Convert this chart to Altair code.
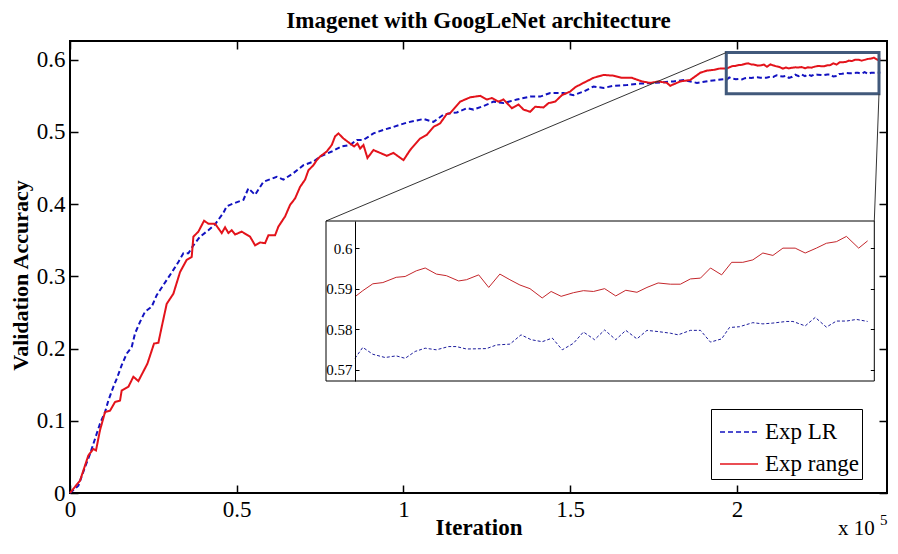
import altair as alt
import pandas as pd

SERIF = "Liberation Serif"
series_names = ["Exp LR", "Exp range"]

# ---- Exp range (red, solid) ----
range_iter_main = [0, 500, 3000, 5500, 7000, 7800, 9000, 10500, 12000, 13500, 15000, 15500, 17500, 19000,
                   20500, 23200, 25200, 26500, 27500, 29000, 31000, 33000, 35000, 36500, 37000, 38500, 40200,
                   41500, 43500, 45500, 46500, 47500, 48500, 49500, 51500, 54000, 55500, 57000, 58500, 59500,
                   61500, 62500, 64500, 66000, 67500, 69000, 70500, 71500, 73000, 74000, 75000, 77000, 78500,
                   79500, 80500, 82000, 84000, 85200, 86200, 87000, 88000, 89200, 91000, 93000, 95000, 97000,
                   100000, 102000, 105000, 107000, 109000, 111000, 113000, 114000, 117000, 120000, 123000,
                   125000, 126500, 128500, 130000, 132500, 134500, 136000, 138000, 139500, 142000, 143500,
                   145500, 147500, 150000, 151500, 154000, 157000, 160000, 163000, 165500, 168500, 171500,
                   174000, 176500, 179000, 180000, 183000, 186000, 189000, 191000, 193000, 195000]
range_acc_main = [0.0, 0.003, 0.017, 0.052, 0.061, 0.059, 0.087, 0.112, 0.114, 0.126, 0.128, 0.142, 0.147, 0.161,
                  0.155, 0.179, 0.207, 0.208, 0.230, 0.262, 0.276, 0.306, 0.323, 0.327, 0.355, 0.362, 0.377,
                  0.373, 0.373, 0.360, 0.368, 0.360, 0.364, 0.358, 0.362, 0.355, 0.343, 0.347, 0.346, 0.357,
                  0.357, 0.369, 0.383, 0.399, 0.408, 0.424, 0.434, 0.447, 0.454, 0.461, 0.466, 0.473, 0.482,
                  0.494, 0.498, 0.491, 0.484, 0.480, 0.484, 0.477, 0.482, 0.464, 0.475, 0.471, 0.467, 0.471,
                  0.461, 0.475, 0.491, 0.496, 0.507, 0.512, 0.525, 0.526, 0.542, 0.548, 0.550,
                  0.545, 0.547, 0.542, 0.545, 0.533, 0.538, 0.531, 0.528, 0.535, 0.534, 0.540,
                  0.542, 0.551, 0.556, 0.562, 0.568, 0.575, 0.579, 0.578, 0.575, 0.575, 0.570,
                  0.568, 0.570, 0.568, 0.564, 0.570, 0.572, 0.582, 0.585, 0.586, 0.588]
range_iter_late = [197000, 197700, 198600, 199500, 200700, 201500, 202500, 203300, 204300, 205200, 206300,
                   207000, 208100, 209000, 210000, 210900, 211800, 212700, 213800, 214600, 215500, 216600,
                   217500, 218400, 219400, 220400, 221300, 222300, 223200, 224200, 225300, 226200, 227100,
                   228000, 228900, 229900, 230800, 231800, 232700, 233600, 234500, 235400, 236500, 237400,
                   238400, 239300, 240200, 241100, 242200, 243000]
range_acc_late = [0.5880, 0.5895, 0.5912, 0.5915, 0.5928, 0.5930, 0.5944, 0.5951, 0.5936, 0.5932, 0.5919,
                  0.5922, 0.5934, 0.5903, 0.5936, 0.5922, 0.5909, 0.5900, 0.5877, 0.5893, 0.5881, 0.5890,
                  0.5895, 0.5893, 0.5900, 0.5882, 0.5896, 0.5891, 0.5903, 0.5914, 0.5911, 0.5911, 0.5924,
                  0.5926, 0.5951, 0.5934, 0.5965, 0.5965, 0.5971, 0.5988, 0.5982, 0.6000, 0.6000, 0.5988,
                  0.6000, 0.6012, 0.6016, 0.6029, 0.6000, 0.6018]

# ---- Exp LR (blue, dashed) ----
lr_iter_main = [0, 2500, 4500, 6000, 8000, 9000, 10500, 11500, 13000, 14000, 15500, 17000, 18500, 19500,
                21000, 22500, 24500, 26000, 28000, 29000, 31000, 32500, 34000, 35500, 37000, 39000, 41500,
                43500, 46000, 47000, 49000, 52000, 53500, 55500, 58000, 62000, 64000, 67000, 70000, 73000,
                75000, 78500, 81500, 84000, 86000, 88000, 91000, 94000, 97000, 101000, 104000, 106000,
                109000, 110500, 112000, 114000, 116000, 119000, 121000, 124000, 127000, 130000, 134000,
                138000, 141000, 144000, 148000, 151000, 154000, 157000, 160000, 163000, 167000, 171000,
                175000, 178000, 181000, 184000, 188000, 192000, 196000]
lr_acc_main = [0.0, 0.010, 0.036, 0.054, 0.082, 0.096, 0.112, 0.128, 0.147, 0.158, 0.177, 0.193, 0.202, 0.221,
               0.237, 0.251, 0.258, 0.274, 0.288, 0.295, 0.309, 0.320, 0.332, 0.332, 0.343, 0.355, 0.364,
               0.372, 0.388, 0.397, 0.401, 0.406, 0.422, 0.413, 0.431, 0.438, 0.434, 0.443, 0.454, 0.459,
               0.466, 0.473, 0.480, 0.482, 0.489, 0.489, 0.498, 0.503, 0.507, 0.513, 0.516, 0.518,
               0.514, 0.519, 0.524, 0.526, 0.527, 0.533, 0.531, 0.536, 0.542, 0.540, 0.545,
               0.549, 0.549, 0.554, 0.554, 0.551, 0.556, 0.563, 0.561, 0.564, 0.565, 0.567,
               0.568, 0.569, 0.570, 0.572, 0.568, 0.571, 0.573]
lr_iter_late = [197000, 197700, 198600, 199700, 200700, 201500, 202400, 203300, 204300, 205400, 206100,
                207000, 208800, 209700, 210900, 211900, 212800, 213800, 214700, 215600, 216600, 217500,
                218500, 219400, 220400, 221300, 222300, 223200, 224200, 225300, 226000, 227100, 228000,
                228900, 229900, 230600, 231500, 232700, 233600, 234500, 235700, 236300, 237400, 238300,
                239300, 240200, 241100, 242000, 243000]
lr_acc_late = [0.5728, 0.5755, 0.5738, 0.5730, 0.5734, 0.5728, 0.5745, 0.5753, 0.5749, 0.5757, 0.5757,
               0.5751, 0.5752, 0.5761, 0.5763, 0.5786, 0.5774, 0.5769, 0.5778, 0.5749, 0.5765, 0.5793,
               0.5774, 0.5798, 0.5774, 0.5797, 0.5776, 0.5797, 0.5794, 0.5790, 0.5786, 0.5797, 0.5797,
               0.5768, 0.5776, 0.5804, 0.5806, 0.5816, 0.5813, 0.5815, 0.5819, 0.5819, 0.5808, 0.5829,
               0.5805, 0.5820, 0.5820, 0.5824, 0.5819]

x_tick_values = [0, 50000, 100000, 150000, 200000]
y_tick_values = [0, 0.1, 0.2, 0.3, 0.4, 0.5, 0.6]
inset_tick_values = [0.57, 0.58, 0.59, 0.6]
title_text = "Imagenet with GoogLeNet architecture"

# ---- layout ----
W, H = 817, 452
XMAX, YMAX = 245000, 0.626
IN_DOM_X = [197000, 243600]
IN_DOM_Y = [0.5672, 0.6067]
IN_BOX_L, IN_AX, IN_R, IN_T, IN_B = 256, 285, 804.3, 180, 340
ZOOM_X = [196800, 242600]
ZOOM_Y = [0.553, 0.610]

rows = []
for it, a in zip(lr_iter_main + lr_iter_late, lr_acc_main + lr_acc_late):
    rows.append({"it": it, "acc": a, "series": "Exp LR"})
for it, a in zip(range_iter_main + range_iter_late, range_acc_main + range_acc_late):
    rows.append({"it": it, "acc": a, "series": "Exp range"})
df = pd.DataFrame(rows)

xs_main = alt.Scale(domain=[0, XMAX], nice=False, zero=False)
ys_main = alt.Scale(domain=[0, YMAX], nice=False, zero=False)
xs_in = alt.Scale(domain=IN_DOM_X, range=[IN_AX, IN_R], nice=False, zero=False)
ys_in = alt.Scale(domain=IN_DOM_Y, range=[IN_B, IN_T], nice=False, zero=False)

leg = alt.Legend(orient="none", legendX=641, legendY=368, title=None, symbolType="stroke",
                 symbolSize=1444, symbolStrokeWidth=1.5, labelFont=SERIF, labelFontSize=23,
                 labelColor="black", labelOffset=6, padding=3, rowPadding=-6, symbolOffset=5,
                 fillColor="white", strokeColor="black", labelLimit=300)

lines = alt.Chart(df).mark_line(strokeWidth=2).encode(
    x=alt.X("it:Q", scale=xs_main, axis=alt.Axis(
        orient="bottom", values=x_tick_values, labelExpr="datum.value / 100000",
        ticks=False, tickSize=0, domain=False, grid=False, labelFlush=False, labelOverlap=False,
        labelFont=SERIF, labelFontSize=23, labelColor="black", labelPadding=5,
        title="Iteration", titleFont=SERIF, titleFontSize=23, titleFontWeight="bold",
        titleColor="black", titleY=41, titleBaseline="alphabetic")),
    y=alt.Y("acc:Q", scale=ys_main, axis=alt.Axis(
        orient="left", values=y_tick_values, format=".1~f",
        ticks=False, tickSize=0, domain=False, grid=False, labelFlush=False, labelOverlap=False,
        labelFont=SERIF, labelFontSize=23, labelColor="black", labelPadding=5,
        title="Validation Accuracy", titleFont=SERIF, titleFontSize=22, titleFontWeight="bold",
        titleColor="black", titleX=-43, titleY=234, titleBaseline="alphabetic")),
    color=alt.Color("series:N", scale=alt.Scale(domain=series_names, range=["#1212c0", "#e3131b"]), legend=leg),
    strokeDash=alt.StrokeDash("series:N", scale=alt.Scale(domain=series_names, range=[[5, 3], [1, 0]]), legend=leg),
)

zoom_df = pd.DataFrame({"x": [ZOOM_X[0]], "x2": [ZOOM_X[1]], "y": [ZOOM_Y[0]], "y2": [ZOOM_Y[1]]})
zoom_rect = alt.Chart(zoom_df).mark_rect(filled=False, color="#41597b", strokeWidth=3).encode(
    x=alt.X("x:Q", scale=xs_main), x2="x2:Q", y=alt.Y("y:Q", scale=ys_main), y2="y2:Q")

inset_top_y = (H - IN_T) / H * YMAX
conn_df = pd.DataFrame({
    "x": [ZOOM_X[0], ZOOM_X[1]],
    "y": [ZOOM_Y[1], ZOOM_Y[0]],
    "x2": [IN_BOX_L / W * XMAX, IN_R / W * XMAX],
    "y2": [inset_top_y, inset_top_y],
})
connectors = alt.Chart(conn_df).mark_rule(color="#333333", strokeWidth=1).encode(
    x=alt.X("x:Q", scale=xs_main), y=alt.Y("y:Q", scale=ys_main), x2="x2:Q", y2="y2:Q")

one = pd.DataFrame({"t": ["x 10"], "s": ["5"], "title": [title_text]})
inset_bg = alt.Chart(one).mark_rect(fill="white", stroke="black", strokeWidth=1).encode(
    x=alt.value(IN_BOX_L), x2=alt.value(IN_R), y=alt.value(IN_T), y2=alt.value(IN_B))
exp_txt = alt.Chart(one).mark_text(align="left", baseline="alphabetic", font=SERIF, fontSize=21,
                                   color="black").encode(x=alt.value(768), y=alt.value(494), text="t:N")
exp_sup = alt.Chart(one).mark_text(align="left", baseline="alphabetic", font=SERIF, fontSize=15,
                                   color="black").encode(x=alt.value(810), y=alt.value(484), text="s:N")
title_mark = alt.Chart(one).mark_text(align="center", baseline="alphabetic", font=SERIF, fontSize=23,
                                      fontWeight="bold", color="black").encode(
    x=alt.value(W / 2), y=alt.value(-13), text="title:N")

main = alt.layer(lines, zoom_rect, connectors, inset_bg, exp_txt, exp_sup, title_mark)

dummy = pd.DataFrame({"it": [100000], "acc": [0.3]})
def tick_axis(orient, offset, values, size):
    return alt.Axis(orient=orient, offset=offset, values=values, labels=False, ticks=True,
                    tickSize=size, tickWidth=1.5, tickColor="black", domain=False, grid=False,
                    title=None)

ticksA = alt.Chart(dummy).mark_point(opacity=0).encode(
    x=alt.X("it:Q", scale=xs_main, axis=tick_axis("top", -H, x_tick_values, 8)),
    y=alt.Y("acc:Q", scale=ys_main, axis=tick_axis("right", -W, y_tick_values, 8)))
ticksB = alt.Chart(dummy).mark_point(opacity=0).encode(
    x=alt.X("it:Q", scale=xs_main, axis=tick_axis("bottom", -H, x_tick_values, 8)),
    y=alt.Y("acc:Q", scale=ys_main, axis=tick_axis("left", -W, y_tick_values, 8)))

inset_y_axis = alt.Axis(orient="left", offset=-IN_AX, values=inset_tick_values, format=".2~f",
                        ticks=False, tickSize=0, domain=True, domainColor="black", domainWidth=1,
                        grid=False, labelFont=SERIF, labelFontSize=15, labelColor="black",
                        labelPadding=3, labelFlush=False, labelOverlap=False, title=None, zindex=1)
inset_base = alt.Chart(df).transform_filter(alt.datum.it >= IN_DOM_X[0])
inset_red = inset_base.transform_filter(alt.datum.series == "Exp range").mark_line(
    color="#c4262b", strokeWidth=1).encode(
    x=alt.X("it:Q", scale=xs_in, axis=None), y=alt.Y("acc:Q", scale=ys_in, axis=inset_y_axis))
inset_blue = inset_base.transform_filter(alt.datum.series == "Exp LR").mark_line(
    color="#1c1c9c", strokeWidth=1, strokeDash=[3, 2]).encode(
    x=alt.X("it:Q", scale=xs_in, axis=None), y=alt.Y("acc:Q", scale=ys_in, axis=inset_y_axis))
inset = alt.layer(inset_red, inset_blue)

dummy_in = pd.DataFrame({"it": [220000], "acc": [0.585]})
def in_tick_axis(orient, offset):
    return alt.Axis(orient=orient, offset=offset, values=inset_tick_values, labels=False, ticks=True,
                    tickSize=4, tickWidth=1, tickColor="black", domain=False, grid=False,
                    title=None, zindex=1)
in_ticksL = alt.Chart(dummy_in).mark_point(opacity=0).encode(
    x=alt.X("it:Q", scale=xs_in, axis=None),
    y=alt.Y("acc:Q", scale=ys_in, axis=in_tick_axis("right", -(W - IN_AX))))
in_ticksR = alt.Chart(dummy_in).mark_point(opacity=0).encode(
    x=alt.X("it:Q", scale=xs_in, axis=None),
    y=alt.Y("acc:Q", scale=ys_in, axis=in_tick_axis("left", -IN_R)))

chart = alt.layer(main, ticksA, ticksB, inset, in_ticksL, in_ticksR).resolve_scale(
    x="independent", y="independent"
).properties(
    width=W, height=H,
    autosize=alt.AutoSizeParams(type="none"),
    padding={"left": 62, "top": 33, "right": 3, "bottom": 47},
).configure_view(stroke="black", strokeWidth=2)

chart.save("out.html", embed_options={"renderer": "svg", "actions": False})
